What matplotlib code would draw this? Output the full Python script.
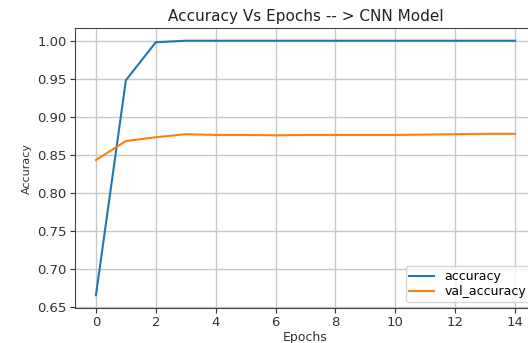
import matplotlib
matplotlib.use("Agg")
import matplotlib.pyplot as plt

epochs = list(range(15))
accuracy = [0.665, 0.948, 0.998, 1.0, 1.0, 1.0, 1.0, 1.0, 1.0, 1.0, 1.0, 1.0, 1.0, 1.0, 1.0]
val_accuracy = [0.843, 0.868, 0.873, 0.877, 0.876, 0.876, 0.8755, 0.876, 0.876, 0.876, 0.876, 0.8765, 0.877, 0.8775, 0.8775]
xticks = [0, 2, 4, 6, 8, 10, 12, 14]
yticks = [0.65, 0.70, 0.75, 0.80, 0.85, 0.90, 0.95, 1.00]

fig = plt.figure(figsize=(5.28, 3.43), dpi=100)
W, H = 528, 343
ax = fig.add_axes([75 / W, 1 - 308 / H, (536 - 75) / W, (308 - 28) / H])
ax.plot(epochs, accuracy, label="accuracy", color="#1f77b4", lw=1.5)
ax.plot(epochs, val_accuracy, label="val_accuracy", color="#ff7f0e", lw=1.5)
ax.set_xticks(xticks)
ax.set_yticks(yticks)
ax.set_yticklabels([f"{v:.2f}" for v in yticks])
ax.grid(True, color="#c8c8c8", lw=1)
ax.set_title("Accuracy Vs Epochs -- > CNN Model", fontsize=11, color="#222222", pad=5)
ax.set_xlabel("Epochs", fontsize=9, color="#333333", labelpad=1)
ax.set_ylabel("Accuracy", fontsize=8, color="#333333")
ax.tick_params(labelsize=9.5, colors="#333333", pad=2.5)
for s in ax.spines.values():
    s.set_color("#444444")
ax.legend(loc="lower right", fontsize=9, labelspacing=0.15, borderpad=0.3)
fig.savefig("out.png", dpi=100)
